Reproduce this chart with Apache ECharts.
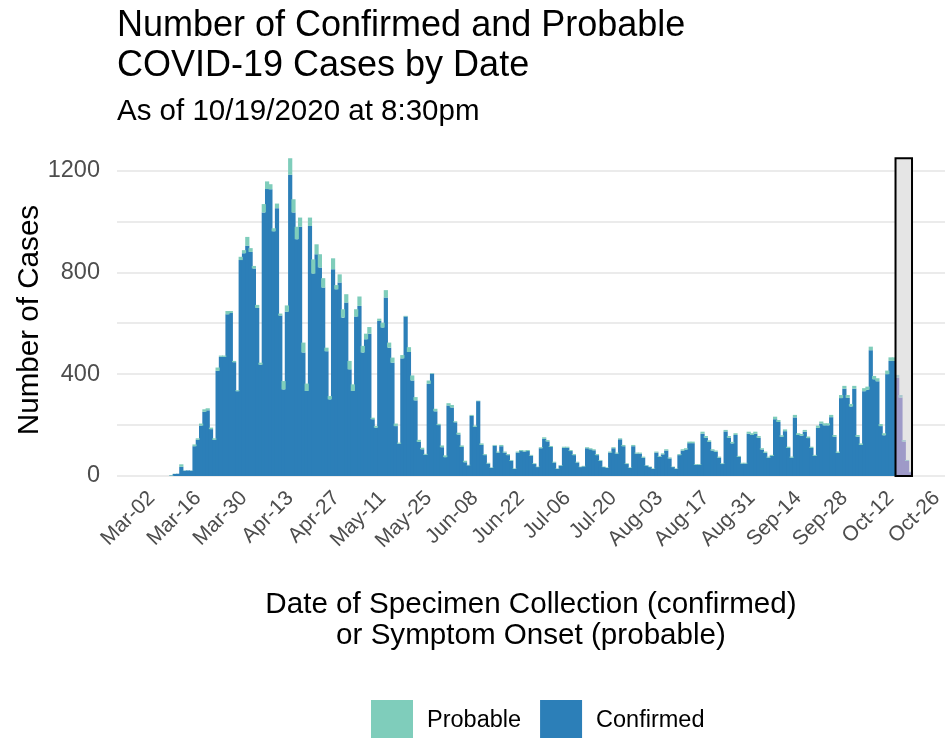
<!DOCTYPE html>
<html><head><meta charset="utf-8">
<script src="https://cdn.jsdelivr.net/npm/echarts@6/dist/echarts.min.js"></script>
<style>html,body{margin:0;padding:0;background:#fff}#c{width:950px;height:738px}</style>
</head><body><div id="c"></div>
<script>
const FONT = '"Liberation Sans", Arial, Helvetica, sans-serif';

// x axis range (daily categories) and tick labels
const axisStart = '2020-02-21';
const axisEnd = '2020-10-28';
const tickLabels = ['Mar-02','Mar-16','Mar-30','Apr-13','Apr-27','May-11','May-25','Jun-08','Jun-22','Jul-06','Jul-20','Aug-03','Aug-17','Aug-31','Sep-14','Sep-28','Oct-12','Oct-26'];
const yTickLabels = [0, 400, 800, 1200];

// daily case counts, first value is for this date
const firstDataDate = '2020-03-08';
const confirmed = [
  2, 8, 9, 36, 21, 22, 21,
  117, 143, 198, 252, 258, 184, 142,
  413, 468, 468, 635, 640, 447, 333,
  848, 875, 904, 880, 815, 660, 437,
  1035, 1127, 1126, 961, 1052, 630, 340,
  645, 1183, 1035, 930, 979, 485, 334,
  982, 795, 871, 819, 740, 490, 301,
  812, 733, 760, 622, 681, 419, 334,
  626, 668, 485, 537, 559, 223, 190,
  609, 583, 701, 504, 445, 196, 127,
  462, 626, 487, 375, 297, 134, 105,
  83, 362, 402, 254, 200, 113, 74,
  277, 269, 211, 163, 114, 54, 42,
  236, 193, 294, 122, 82, 49, 32,
  119, 92, 117, 92, 82, 60, 28,
  92, 98, 96, 98, 80, 47, 35,
  109, 146, 136, 114, 53, 28, 41,
  111, 111, 98, 82, 53, 35, 38,
  109, 105, 101, 82, 60, 35, 32,
  92, 109, 88, 144, 117, 47, 32,
  117, 88, 88, 72, 41, 35, 28,
  92, 75, 85, 100, 69, 35, 28,
  82, 100, 104, 129, 129, 44, 44,
  166, 150, 134, 100, 95, 72, 47,
  175, 150, 128, 161, 75, 49, 49,
  166, 161, 166, 150, 104, 91, 72,
  79, 223, 212, 154, 176, 110, 72,
  230, 161, 158, 174, 149, 110, 79,
  189, 206, 199, 199, 231, 154, 91,
  306, 343, 307, 273, 343, 154, 122,
  333, 339, 494, 380, 372, 196, 160,
  400, 452, 452, 386, 308, 135, 59,
  15
];
const probable = [
  2, 1, 0, 10, 1, 0, 1,
  7, 5, 8, 10, 8, 6, 6,
  13, 5, 5, 13, 8, 5, 4,
  13, 12, 35, 15, 10, 12, 8,
  33, 30, 20, 12, 18, 8, 33,
  25, 65, 52, 49, 36, 39, 29,
  33, 56, 39, 52, 37, 14, 13,
  43, 17, 32, 33, 33, 33, 26,
  29, 37, 26, 22, 26, 6, 6,
  9, 19, 29, 20, 20, 10, 4,
  13, 3, 19, 20, 13, 8, 6,
  4, 13, 2, 10, 5, 7, 7,
  9, 10, 4, 7, 6, 6, 2,
  4, 5, 2, 6, 4, 3, 2,
  3, 4, 5, 4, 4, 3, 2,
  4, 4, 4, 4, 3, 3, 2,
  4, 6, 5, 4, 3, 2, 2,
  4, 4, 4, 4, 3, 2, 2,
  4, 4, 4, 4, 3, 2, 2,
  4, 4, 4, 4, 5, 3, 2,
  5, 4, 4, 4, 2, 2, 2,
  4, 4, 4, 5, 4, 2, 2,
  4, 5, 5, 6, 6, 3, 3,
  8, 7, 6, 5, 5, 4, 3,
  6, 7, 6, 7, 4, 3, 3,
  8, 7, 8, 7, 5, 5, 4,
  4, 10, 8, 6, 7, 5, 4,
  10, 7, 7, 7, 6, 5, 4,
  9, 8, 8, 8, 9, 7, 5,
  12, 11, 11, 10, 11, 7, 6,
  12, 12, 14, 13, 12, 8, 8,
  14, 14, 14, 11, 10, 6, 4,
  2
];

// recent (incomplete) period highlighted by the box
const pendingStart = '2020-10-14';
const pendingEnd = '2020-10-18';

const C_CONF = '#2c7fb8', C_PROB = '#7fcdbb';
const C_CONF_PEND = '#9e9ac8', C_PROB_PEND = '#a9c9cf';

const MON = ['Jan','Feb','Mar','Apr','May','Jun','Jul','Aug','Sep','Oct','Nov','Dec'];
function fmt(s){ const p = s.split('-'); return MON[+p[1]-1] + '-' + p[2]; }
const categories = [];
for (let t = Date.parse(axisStart + 'T00:00:00Z'); t <= Date.parse(axisEnd + 'T00:00:00Z'); t += 86400000) {
  categories.push(new Date(t).toISOString().slice(0, 10));
}
const startIdx = categories.indexOf(firstDataDate);
const dataDates = confirmed.map((_, i) => categories[startIdx + i]);
const inPending = d => d >= pendingStart && d <= pendingEnd;
const totals = confirmed.map((v, i) => v + probable[i]);
const boxTop = Math.max.apply(null, totals);

const confData = dataDates.map((d, i) => inPending(d)
  ? { value: [d, confirmed[i]], itemStyle: { color: C_CONF_PEND } }
  : { value: [d, confirmed[i]] });
const probData = dataDates.map((d, i) => inPending(d)
  ? { value: [d, probable[i]], itemStyle: { color: C_PROB_PEND } }
  : { value: [d, probable[i]] });

function boxRender(fillOnly) {
  return function (params, api) {
    const a = api.coord([api.value(0), api.value(2)]);
    const b = api.coord([api.value(1), 0]);
    const bw = api.size([1, 0])[0];
    return {
      type: 'rect',
      shape: { x: a[0] - bw / 2, y: a[1], width: b[0] - a[0] + bw, height: b[1] - a[1] },
      style: fillOnly ? { fill: '#e5e5e5', stroke: null } : { fill: null, stroke: '#000', lineWidth: 2 }
    };
  };
}

const chart = echarts.init(document.getElementById('c'), null, { renderer: 'canvas' });
chart.setOption({
  animation: false,
  backgroundColor: '#fff',
  title: [
    { text: 'Number of Confirmed and Probable\nCOVID-19 Cases by Date', left: 117, top: 6, padding: 0,
      textStyle: { fontFamily: FONT, fontSize: 36, fontWeight: 'normal', color: '#000', lineHeight: 40 } },
    { text: 'As of 10/19/2020 at 8:30pm', left: 117, top: 95, padding: 0,
      textStyle: { fontFamily: FONT, fontSize: 29.5, fontWeight: 'normal', color: '#000', lineHeight: 34 } }
  ],
  legend: {
    data: ['Probable', 'Confirmed'],
    left: 366, top: 695,
    icon: 'rect', itemWidth: 42, itemHeight: 42, itemGap: 19,
    textStyle: { fontFamily: FONT, fontSize: 23.5, color: '#000', padding: [0, 0, 0, 9] }
  },
  grid: { left: 117, right: 5, top: 145, bottom: 262, containLabel: false },
  xAxis: {
    type: 'category',
    data: categories,
    boundaryGap: true,
    axisLine: { show: false },
    axisTick: { show: false },
    splitLine: { show: false },
    axisLabel: {
      interval: (idx, val) => tickLabels.indexOf(fmt(val)) >= 0,
      formatter: v => fmt(v),
      rotate: 45, margin: 19,
      fontFamily: FONT, fontSize: 21, color: '#4d4d4d'
    }
  },
  yAxis: {
    type: 'value',
    min: 0, max: 1300, interval: 200,
    axisLine: { show: false },
    axisTick: { show: false },
    splitLine: { show: true, showMaxLine: false, lineStyle: { color: '#ebebeb', width: 2 } },
    axisLabel: {
      showMaxLabel: false,
      formatter: v => (yTickLabels.indexOf(v) >= 0 ? String(v) : ''),
      margin: 17, fontFamily: FONT, fontSize: 23.5, color: '#4d4d4d'
    }
  },
  graphic: [
    { type: 'text', x: 30, y: 320, rotation: Math.PI / 2,
      style: { text: 'Number of Cases', fontFamily: FONT, fontSize: 29.6, fill: '#000', align: 'center', verticalAlign: 'middle' } },
    { type: 'text', x: 531, y: 620,
      style: { text: 'Date of Specimen Collection (confirmed)\nor Symptom Onset (probable)', fontFamily: FONT, fontSize: 29.6,
        lineHeight: 31, fill: '#000', align: 'center', verticalAlign: 'middle' } }
  ],
  series: [
    { type: 'custom', silent: true, z: 1, data: [[pendingStart, pendingEnd, boxTop]],
      encode: { x: [0, 1], y: 2 }, renderItem: boxRender(true) },
    { name: 'Confirmed', type: 'bar', stack: 'cases', z: 2, data: confData, barWidth: 4.2,
      itemStyle: { color: C_CONF } },
    { name: 'Probable', type: 'bar', stack: 'cases', z: 2, data: probData, barWidth: 4.2,
      itemStyle: { color: C_PROB } },
    { type: 'custom', silent: true, z: 5, data: [[pendingStart, pendingEnd, boxTop]],
      encode: { x: [0, 1], y: 2 }, renderItem: boxRender(false) }
  ]
});
</script>
</body></html>
